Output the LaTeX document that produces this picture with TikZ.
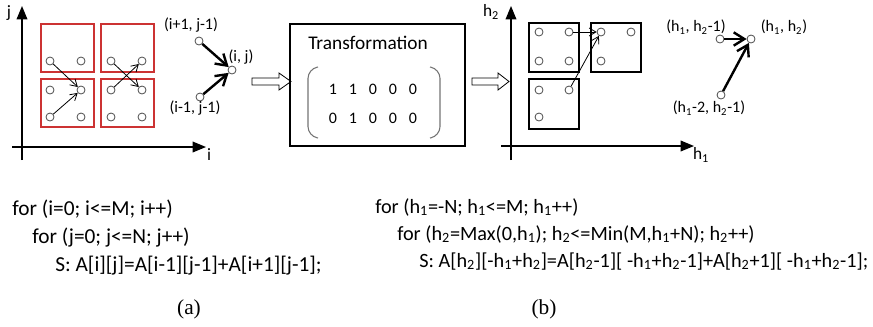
\documentclass[tikz,border=0pt]{standalone}
\usepackage{fontspec}
\setmainfont{Carlito}
\newfontfamily\capfont{Liberation Serif}
\usetikzlibrary{arrows.meta}
\definecolor{boxred}{RGB}{204,51,51}
\tikzset{
  pt/.style={circle, draw=black!70, fill=white, line width=0.6pt, inner sep=0pt, minimum size=6pt},
  dep/.style={-{Straight Barb[length=5pt,width=6pt]}, line width=0.6pt},
  bigdep/.style={-{Straight Barb[length=8pt,width=10pt]}, line width=1.8pt},
  axis/.style={-{Triangle[length=10pt,width=8pt]}, line width=1pt},
  tile/.style={line width=0.8pt},
  hollow/.style={draw=black, fill=white, line width=0.6pt, line join=miter},
  lbl/.style={font=\fontsize{12}{14}\selectfont, inner sep=0pt},
  code/.style={font=\fontsize{15.2}{18}\selectfont, inner sep=0pt, anchor=base west},
}
\begin{document}
\begin{tikzpicture}[x=0.75pt, y=-0.75pt]
	\useasboundingbox (0,0) rectangle (873,326);
	% (a) original iteration space
	\coordinate (jlow) at (22,160);
	\coordinate (jtop) at (22,6);
	\coordinate (ileft) at (12,147);
	\coordinate (iright) at (206,147);
	\draw[axis] (jlow) -- (jtop);
	\draw[axis] (ileft) -- (iright);
	\node[lbl, font=\fontsize{13}{15}\selectfont](jlab) at (9,13){j};
	\node[lbl, font=\fontsize{13}{15}\selectfont](ilab) at (209,155){i};
	\draw[tile, draw=boxred] (41,24) rectangle (94,72);
	\draw[tile, draw=boxred] (101,24) rectangle (154,72);
	\draw[tile, draw=boxred] (41,79) rectangle (94,127);
	\draw[tile, draw=boxred] (101,79) rectangle (154,127);
	\node[pt](a1) at (50,61){};
	\node[pt](a2) at (81,61){};
	\node[pt](a3) at (111,61){};
	\node[pt](a4) at (142,61){};
	\node[pt](a5) at (50,90){};
	\node[pt](a6) at (81,90){};
	\node[pt](a7) at (111,90){};
	\node[pt](a8) at (142,90){};
	\node[pt](a9) at (50,117){};
	\node[pt](a10) at (81,117){};
	\node[pt](a11) at (111,117){};
	\node[pt](a12) at (142,117){};
	\draw[dep] (a1) -- (a6);
	\draw[dep] (a9) -- (a6);
	\draw[dep] (a3) -- (a8);
	\draw[dep] (a7) -- (a4);
	\node[pt](ipj) at (199,41){};
	\node[pt](ij) at (232,70){};
	\node[pt](imj) at (200,97){};
	\draw[bigdep] (ipj) -- (ij);
	\draw[bigdep] (imj) -- (ij);
	\node[lbl](ipjlab) at (191,25){(i+1, j-1)};
	\node[lbl](ijlab) at (241,57){(i, j)};
	\node[lbl](imjlab) at (195,108){(i-1, j-1)};
	% transformation
	\draw[hollow] (252,78) -- (279,78) -- (279,73) -- (291,81.5) -- (279,90) -- (279,85) -- (252,85) -- cycle;
	\draw[line width=0.8pt] (290,24) rectangle (465,146);
	\node[lbl, font=\fontsize{14.5}{17}\selectfont](trans) at (368,43){Transformation};
	\draw[black!55, line width=0.8pt, rounded corners=7pt] (318,67) -- (308,69) -- (308,136) -- (318,138);
	\draw[black!55, line width=0.8pt, rounded corners=7pt] (430,67) -- (440,69) -- (440,136) -- (430,138);
	\node[lbl](m11) at (333,89){1};
	\node[lbl](m12) at (353,89){1};
	\node[lbl](m13) at (373,89){0};
	\node[lbl](m14) at (393,89){0};
	\node[lbl](m15) at (413,89){0};
	\node[lbl](m21) at (333,118){0};
	\node[lbl](m22) at (353,118){1};
	\node[lbl](m23) at (373,118){0};
	\node[lbl](m24) at (393,118){0};
	\node[lbl](m25) at (413,118){0};
	\draw[hollow] (472,78) -- (498,78) -- (498,73) -- (509,81.5) -- (498,90) -- (498,85) -- (472,85) -- cycle;
	% (b) transformed iteration space
	\coordinate (hlow) at (511,160);
	\coordinate (htop) at (511,6);
	\coordinate (hleft) at (501,146);
	\coordinate (hright) at (694,146);
	\draw[axis] (hlow) -- (htop);
	\draw[axis] (hleft) -- (hright);
	\node[lbl, font=\fontsize{13}{15}\selectfont](h2lab) at (491,12){h\textsubscript{2}};
	\node[lbl, font=\fontsize{13}{15}\selectfont](h1lab) at (701,155){h\textsubscript{1}};
	\draw[tile] (529,23) rectangle (579,72);
	\draw[tile] (591,23) rectangle (641,72);
	\draw[tile] (529,79) rectangle (579,129);
	\node[pt](b1) at (539,32){};
	\node[pt](b2) at (569,32){};
	\node[pt](b3) at (539,61){};
	\node[pt](b4) at (569,61){};
	\node[pt](b5) at (601,32){};
	\node[pt](b6) at (631,32){};
	\node[pt](b7) at (601,61){};
	\node[pt](b8) at (539,90){};
	\node[pt](b9) at (569,90){};
	\node[pt](b10) at (539,117){};
	\draw[dep] (b2) -- (b5);
	\draw[dep] (b9) -- (b5);
	\node[pt](hm) at (720,39){};
	\node[pt](hh) at (751,39){};
	\node[pt](hmm) at (721,95){};
	\draw[bigdep] (hm) -- (hh);
	\draw[bigdep] (hmm) -- (hh);
	\node[lbl](hmlab) at (696,27){(h\textsubscript{1}, h\textsubscript{2}-1)};
	\node[lbl](hhlab) at (784,27){(h\textsubscript{1}, h\textsubscript{2})};
	\node[lbl](hmmlab) at (709,108){(h\textsubscript{1}-2, h\textsubscript{2}-1)};
	% loop codes
	\node[code, font=\fontsize{16}{18}\selectfont](la1) at (12,215){for (i=0; i<=M; i++)};
	\node[code, font=\fontsize{16}{18}\selectfont](la2) at (32,243){for (j=0; j<=N; j++)};
	\node[code, font=\fontsize{16}{18}\selectfont](la3) at (55,271){S: A[i][j]=A[i-1][j-1]+A[i+1][j-1];};
	\node[code](lb1) at (375,213){for (h\textsubscript{1}=-N; h\textsubscript{1}<=M; h\textsubscript{1}++)};
	\node[code](lb2) at (397,240){for (h\textsubscript{2}=Max(0,h\textsubscript{1}); h\textsubscript{2}<=Min(M,h\textsubscript{1}+N); h\textsubscript{2}++)};
	\node[code](lb3) at (419,267){S: A[h\textsubscript{2}][-h\textsubscript{1}+h\textsubscript{2}]=A[h\textsubscript{2}-1][ -h\textsubscript{1}+h\textsubscript{2}-1]+A[h\textsubscript{2}+1][ -h\textsubscript{1}+h\textsubscript{2}-1];};
	\node[inner sep=0pt, font=\capfont\fontsize{16}{18}\selectfont](capa) at (189,309){(a)};
	\node[inner sep=0pt, font=\capfont\fontsize{16}{18}\selectfont](capb) at (544,309){(b)};
\end{tikzpicture}
\end{document}
